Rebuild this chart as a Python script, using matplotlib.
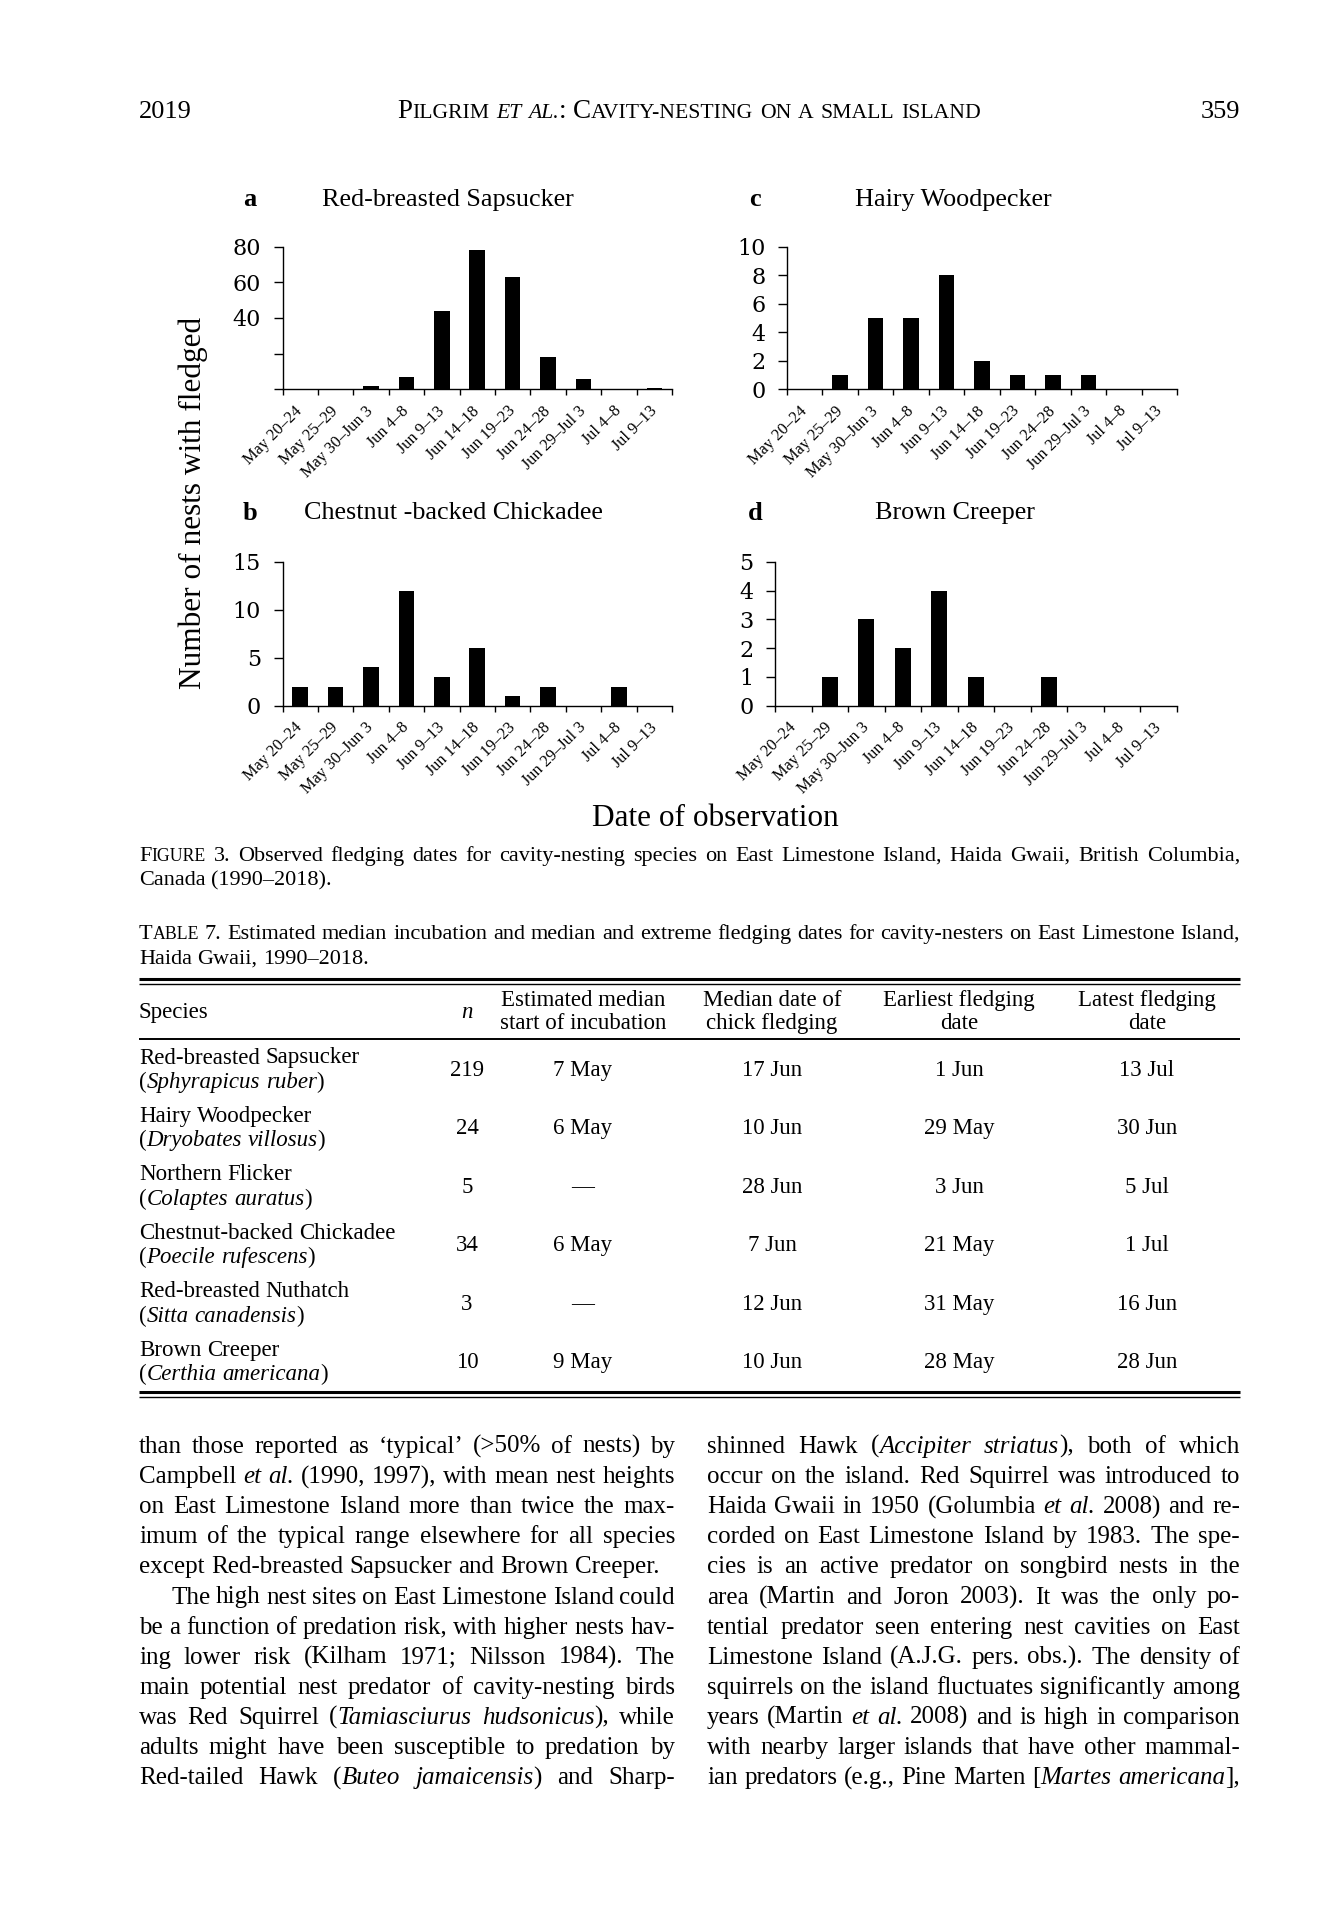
"""
Page 359: fledging-date histograms, Table 7 and body text
"""

import numpy as np
import matplotlib
matplotlib.use('Agg')
import matplotlib.pyplot as plt
from matplotlib.font_manager import FontProperties

W, H = 1325, 1925
SERIF = 'Liberation Serif'

# ---- figure data -------------------------------------------------------
periods = ['May 20–24', 'May 25–29', 'May 30–Jun 3', 'Jun 4–8', 'Jun 9–13',
           'Jun 14–18', 'Jun 19–23', 'Jun 24–28', 'Jun 29–Jul 3', 'Jul 4–8',
           'Jul 9–13']
sapsucker = [0, 0, 2, 7, 44, 78, 63, 18, 6, 0, 1]
chickadee = [2, 2, 4, 12, 3, 6, 1, 2, 0, 2, 0]
woodpecker = [0, 1, 5, 5, 8, 2, 1, 1, 1, 0, 0]
creeper = [0, 1, 3, 2, 4, 1, 0, 1, 0, 0, 0]

# ---- table data --------------------------------------------------------
species = ['Red-breasted Sapsucker', 'Hairy Woodpecker', 'Northern Flicker',
           'Chestnut-backed Chickadee', 'Red-breasted Nuthatch', 'Brown Creeper']
latin = ['Sphyrapicus ruber', 'Dryobates villosus', 'Colaptes auratus',
         'Poecile rufescens', 'Sitta canadensis', 'Certhia americana']
n_nests = [219, 24, 5, 34, 3, 10]
incubation = ['7 May', '6 May', '—', '6 May', '—', '9 May']
median_fledge = ['17 Jun', '10 Jun', '28 Jun', '7 Jun', '12 Jun', '10 Jun']
earliest = ['1 Jun', '29 May', '3 Jun', '21 May', '31 May', '28 May']
latest = ['13 Jul', '30 Jun', '5 Jul', '1 Jul', '16 Jun', '28 Jun']

left_text = [
    "than those reported as ‘typical’ (>50% of nests) by",
    "Campbell _et al._ (1990, 1997), with mean nest heights",
    "on East Limestone Island more than twice the max-",
    "imum of the typical range elsewhere for all species",
    "except Red-breasted Sapsucker and Brown Creeper.",
    "The high nest sites on East Limestone Island could",
    "be a function of predation risk, with higher nests hav-",
    "ing lower risk (Kilham 1971; Nilsson 1984). The",
    "main potential nest predator of cavity-nesting birds",
    "was Red Squirrel (_Tamiasciurus hudsonicus_), while",
    "adults might have been susceptible to predation by",
    "Red-tailed Hawk (_Buteo jamaicensis_) and Sharp-",
]
right_text = [
    "shinned Hawk (_Accipiter striatus_), both of which",
    "occur on the island. Red Squirrel was introduced to",
    "Haida Gwaii in 1950 (Golumbia _et al._ 2008) and re-",
    "corded on East Limestone Island by 1983. The spe-",
    "cies is an active predator on songbird nests in the",
    "area (Martin and Joron 2003). It was the only po-",
    "tential predator seen entering nest cavities on East",
    "Limestone Island (A.J.G. pers. obs.). The density of",
    "squirrels on the island fluctuates significantly among",
    "years (Martin _et al._ 2008) and is high in comparison",
    "with nearby larger islands that have other mammal-",
    "ian predators (e.g., Pine Marten [_Martes americana_],",
]

fig = plt.figure(figsize=(W / 100, H / 100), dpi=100)
renderer = fig.canvas.get_renderer()

page = fig.add_axes([0, 0, 1, 1], zorder=0)
page.set_xlim(0, W)
page.set_ylim(H, 0)
page.axis('off')


def fp(size, style='normal', weight='normal', family=SERIF):
    return FontProperties(family=family, size=size, style=style, weight=weight)


def text_w(s, prop):
    return renderer.get_text_width_height_descent(s, prop, ismath=False)[0]


def parse(line, size, small=0.8):
    """Split a line in words of styled runs. _x_ = italic, ~x~ = small caps."""
    words, runs = [], []
    italic = sc = False
    for ch in line:
        if ch == '_':
            italic = not italic
            continue
        if ch == '~':
            sc = not sc
            continue
        if ch == ' ':
            if runs:
                words.append(runs)
                runs = []
            continue
        key = (italic, sc and not ch.isupper())
        c = ch.upper() if key[1] else ch
        if runs and runs[-1][1] == key:
            runs[-1][0] += c
        else:
            runs.append([c, key])
    if runs:
        words.append(runs)
    return [[(t, fp(size * (small if s else 1), 'italic' if i else 'normal'))
             for t, (i, s) in w] for w in words]


def draw_line(line, size, x0, y, x1=None, align='left'):
    words = parse(line, size)
    widths = [sum(text_w(t, p) for t, p in w) for w in words]
    base = fp(size)
    space = text_w('a a', base) - text_w('aa', base)
    if x1 is not None and len(words) > 1:
        gap = max((x1 - x0 - sum(widths)) / (len(words) - 1), space * 0.5)
        x = x0
    else:
        gap = space
        full = sum(widths) + gap * (len(words) - 1)
        x = {'left': x0, 'center': x0 - full / 2, 'right': x0 - full}[align]
    for w, wd in zip(words, widths):
        xx = x
        for t, p in w:
            page.text(xx, y, t, fontproperties=p, va='baseline', ha='left')
            xx += text_w(t, p)
        x += wd + gap


# ---- running head ------------------------------------------------------
draw_line('2019', 19, 139, 118)
draw_line('359', 19, 1240, 118, align='right')
draw_line('~Pilgrim~ _~et al.~_: ~Cavity-nesting on a small island~', 19.5, 689, 118,
          align='center')


# ---- bar panels --------------------------------------------------------
def bar_panel(box, values, ymax, step, shown=None):
    l, t, r, b = box
    ax = fig.add_axes([l / W, 1 - b / H, (r - l) / W, (b - t) / H], zorder=1)
    ax.patch.set_alpha(0)
    x = np.arange(len(periods))
    ax.bar(x, values, width=0.44, color='black')
    ax.set_xlim(-0.5, len(periods) - 0.5)
    ax.set_ylim(0, ymax)
    ticks = np.arange(0, ymax + step / 2, step)
    labels = ['{0:g}'.format(v) if shown is None or v in shown else '' for v in ticks]
    ax.set_yticks(ticks)
    ax.set_yticklabels(labels, fontproperties=fp(16, family='DejaVu Serif'))
    ax.set_xticks(np.arange(len(periods) + 1) - 0.5)
    ax.set_xticklabels([])
    ax.set_xticks(x, minor=True)
    ax.set_xticklabels(periods, minor=True, rotation=45, ha='right', va='center',
                       rotation_mode='anchor', fontproperties=fp(11.8))
    ax.tick_params(axis='x', which='major', length=4, width=1, direction='out')
    ax.tick_params(axis='x', which='minor', length=0, pad=14)
    ax.tick_params(axis='y', length=6.5, width=1, pad=9)
    for side in ['top', 'right']:
        ax.spines[side].set_visible(False)
    for side in ['left', 'bottom']:
        ax.spines[side].set_linewidth(1)
    return ax


bar_panel((282.5, 246.7, 672, 389.3), sapsucker, 80, 20, shown=[40, 60, 80])
bar_panel((282.5, 562, 672, 705.7), chickadee, 15, 5)
bar_panel((787, 246.7, 1177, 389.3), woodpecker, 10, 2)
bar_panel((775, 562, 1177, 705.7), creeper, 5, 1)

for letter, lx, title, tx, ty in [('a', 250, 'Red-breasted Sapsucker', 448, 200),
                                  ('c', 755, 'Hairy Woodpecker', 953, 200),
                                  ('b', 250, 'Chestnut -backed Chickadee', 453, 513),
                                  ('d', 755, 'Brown Creeper', 955, 513)]:
    page.text(lx, ty, letter, fontproperties=fp(19, weight='bold'), ha='center', va='center')
    page.text(tx, ty, title, fontproperties=fp(18.8), ha='center', va='center')

page.text(193, 503, 'Number of nests with fledged', fontproperties=fp(22.5),
          rotation=90, ha='center', va='center')
page.text(715, 819, 'Date of observation', fontproperties=fp(22.5), ha='center', va='center')

# ---- captions ----------------------------------------------------------
CS = 16
draw_line('~Figure~ 3. Observed fledging dates for cavity-nesting species on East Limestone '
          'Island, Haida Gwaii, British Columbia,', CS, 139, 861, x1=1240)
draw_line('Canada (1990–2018).', CS, 139, 885)
draw_line('~Table~ 7. Estimated median incubation and median and extreme fledging dates '
          'for cavity-nesters on East Limestone Island,', CS, 139, 939, x1=1240)
draw_line('Haida Gwaii, 1990–2018.', CS, 139, 964)

# ---- table -------------------------------------------------------------
page.hlines(978.5, 139, 1240, color='black', lw=2.2)
page.hlines(983.5, 139, 1240, color='black', lw=1.0)
page.hlines(1038.5, 139, 1240, color='black', lw=1.4)
page.hlines(1391.5, 139, 1240, color='black', lw=2.2)
page.hlines(1396.5, 139, 1240, color='black', lw=1.0)

TS = 16.5
cols = [467, 583, 772, 959, 1147]
page.text(139, 1018, 'Species', fontproperties=fp(TS), va='baseline')
page.text(cols[0], 1018, 'n', fontproperties=fp(TS, 'italic'), va='baseline', ha='center')
heads = [('Estimated median', 'start of incubation'), ('Median date of', 'chick fledging'),
         ('Earliest fledging', 'date'), ('Latest fledging', 'date')]
for cx, (h1, h2) in zip(cols[1:], heads):
    page.text(cx, 1006, h1, fontproperties=fp(TS), va='baseline', ha='center')
    page.text(cx, 1029, h2, fontproperties=fp(TS), va='baseline', ha='center')

for i in range(len(species)):
    yc = 1070 + i * 58.45
    draw_line(species[i], TS, 139, yc - 6.5)
    draw_line('(_' + latin[i] + '_)', TS, 139, yc + 18)
    row = [str(n_nests[i]), incubation[i], median_fledge[i], earliest[i], latest[i]]
    for cx, v in zip(cols, row):
        page.text(cx, yc + 6, v, fontproperties=fp(TS), va='baseline', ha='center')

# ---- body text ---------------------------------------------------------
BS = 18
for k, line in enumerate(left_text):
    y = 1453 + k * 30.1
    if k == 4:
        draw_line(line, BS, 139, y)
    elif k == 5:
        draw_line(line, BS, 171, y, x1=675)
    else:
        draw_line(line, BS, 139, y, x1=675)
for k, line in enumerate(right_text):
    draw_line(line, BS, 707, 1453 + k * 30.1, x1=1240)

fig.savefig('out.png', dpi=100, facecolor='white')
